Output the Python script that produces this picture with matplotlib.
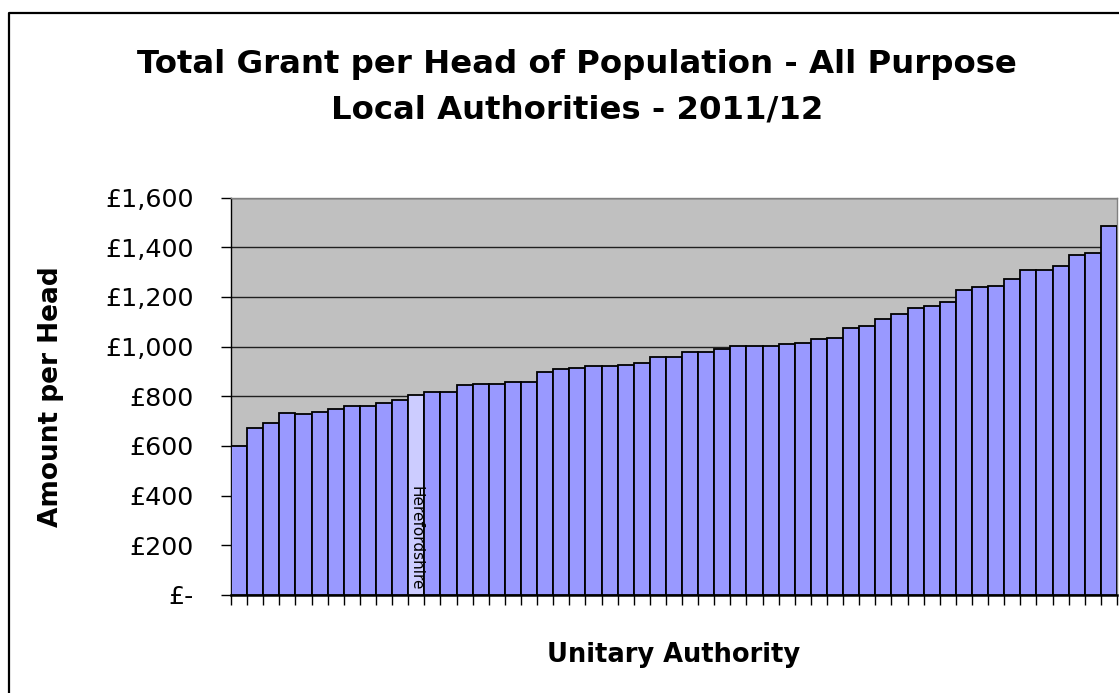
import matplotlib
matplotlib.use("Agg")
import matplotlib.pyplot as plt
from matplotlib.lines import Line2D
import numpy as np

# grant per head (GBP), one bar per unitary authority, sorted ascending
grant_per_head = [600, 673, 692, 731, 729, 736, 748, 760, 760, 774,
                  786, 806, 818, 818, 845, 850, 850, 856, 858, 896,
                  908, 914, 920, 920, 926, 933, 959, 959, 977, 977,
                  991, 1003, 1003, 1003, 1010, 1015, 1029, 1035, 1074, 1081,
                  1111, 1130, 1157, 1163, 1181, 1227, 1238, 1244, 1270, 1307,
                  1307, 1326, 1370, 1378, 1485]
highlight_name = "Herefordshire"
highlight_index = 11  # 12th bar

y_ticks = [0, 200, 400, 600, 800, 1000, 1200, 1400, 1600]
title_line1 = "Total Grant per Head of Population - All Purpose"
title_line2 = "Local Authorities - 2011/12"
x_label = "Unitary Authority"
y_label = "Amount per Head"


def money(v):
    if v == 0:
        return "£-"
    return "£{:,.0f}".format(v)


if __name__ == "__main__":
    plt.rcParams['font.family'] = ['DejaVu Sans']

    fig = plt.figure(figsize=(11.19, 6.93), dpi=100)
    ax = fig.add_axes([231/1119, 1-595/693, 886/1119, 397.5/693])
    ax.set_facecolor("#C0C0C0")

    n = len(grant_per_head)
    pos = np.arange(n)
    colori = ["#9999FF"] * n
    colori[highlight_index] = "#CCCCFF"
    ax.bar(pos, grant_per_head, width=1.0, color=colori, edgecolor="black",
           linewidth=1.3, zorder=3)

    ax.text(highlight_index, 20, highlight_name, rotation=270, ha="center",
            va="bottom", fontsize=11, zorder=4)

    ax.set_xlim(-0.5, n - 0.5)
    ax.set_ylim(0, 1600)
    ax.set_yticks(y_ticks)
    ax.set_yticklabels([money(v) for v in y_ticks])
    ax.set_xticks(np.arange(n + 1) - 0.5)
    ax.set_xticklabels([])
    ax.yaxis.grid(True, color="#202020", linewidth=1.0, zorder=0)
    ax.set_axisbelow(True)

    ax.tick_params(axis="y", direction="out", length=7, width=1, pad=20, labelsize=18.3)
    ax.tick_params(axis="x", direction="out", length=7, width=1)

    ax.spines["left"].set_color("black")
    ax.spines["bottom"].set_color("black")
    ax.spines["bottom"].set_linewidth(1.8)
    ax.spines["top"].set_color("#808080")
    ax.spines["right"].set_color("#808080")
    for s in ["left", "top", "right"]:
        ax.spines[s].set_linewidth(1.0)

    ax.set_xlabel(x_label, fontsize=18.5, fontweight="bold")
    ax.xaxis.set_label_coords(0.5, (595-655)/397.5)
    ax.xaxis.label.set_va("center")
    ax.set_ylabel(y_label, fontsize=19, fontweight="bold")
    ax.yaxis.set_label_coords((51-231)/886, 0.5)
    ax.yaxis.label.set_va("center")

    fig.text(577/1119, 1-72.7/693, title_line1, ha="center", va="baseline",
             fontsize=23.3, fontweight="bold")
    fig.text(577/1119, 1-118/693, title_line2, ha="center", va="baseline",
             fontsize=23.3, fontweight="bold")

    # chart frame (cropped at right and bottom)
    fx = 8.5/1119
    fy = 1-12.5/693
    fig.add_artist(Line2D([fx, fx, 1.0], [0.0, fy, fy], transform=fig.transFigure,
                          color="black", linewidth=1.6))

    fig.savefig("out.png", dpi=100)
